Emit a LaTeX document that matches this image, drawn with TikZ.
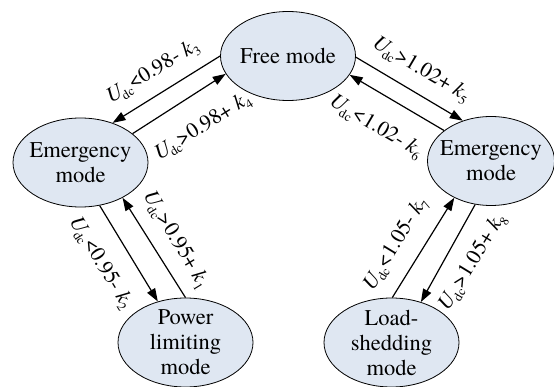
\documentclass[tikz,border=0pt]{standalone}
\usepackage{fontspec}
\setmainfont{texgyretermes}[Extension=.otf, UprightFont=*-regular,
  ItalicFont=*-italic, BoldFont=*-bold, BoldItalicFont=*-bolditalic]
\usetikzlibrary{arrows.meta,shapes.geometric}
\definecolor{modefill}{RGB}{223,231,242}
% lowered small text for the subscripts
\newcommand\lowsub[1]{\raisebox{-0.22em}{\fontsize{13}{13}\selectfont #1}}
% switching condition: U_dc <relation> k_i
\newcommand\switchcond[2]{{\itshape U}\kern-2pt\lowsub{dc}#1 {\itshape k}\lowsub{#2}}
\begin{document}
\begin{tikzpicture}[x=1pt,y=-1pt,
  mode/.style={ellipse, draw, fill=modefill, line width=0.8pt,
    minimum width=135pt, minimum height=89pt,
    inner xsep=-8pt, inner ysep=-8pt, align=center,
    font=\fontsize{22.5}{25}\selectfont},
  trans/.style={line width=1.2pt, -{Triangle[length=13pt,width=9pt]}},
  condlabel/.style={font=\fontsize{21.5}{25}\selectfont, inner sep=0pt}]
\useasboundingbox (0,0) rectangle (554,387);

% operating modes
\node[mode] (free) at (288,56) {Free mode};
\node[mode] (emL) at (80.5,162.5) {Emergency\\mode};
\node[mode, minimum width=127pt] (emR) at (491,161) {Emergency\\mode};
\node[mode] (power) at (185.5,342.5) {Power\\limiting\\mode};
\node[mode] (load) at (391.5,342.5) {Load-\\shedding\\mode};

% transitions
\draw[trans] (free.180) -- (emL.51.3);
\draw[trans] (emL.29.3) -- (free.196.8);
\draw[trans] (free.-1) -- (emR.125);
\draw[trans] (emR.147.8) -- (free.-17.9);
\draw[trans] (emL.-66.3) -- (power.124.5);
\draw[trans] (power.90.6) -- (emL.-40.1);
\draw[trans] (load.89.4) -- (emR.225.7);
\draw[trans] (emR.250) -- (load.54.9);

% switching conditions
\node[condlabel, rotate=31.5] (c3) at (153,72) {\switchcond{<0.98-}{3}};
\node[condlabel, rotate=32] (c4) at (203,127) {\switchcond{>0.98+}{4}};
\node[condlabel, rotate=-30.5] (c5) at (421,70) {\switchcond{>1.02+}{5}};
\node[condlabel, rotate=-30.5] (c6) at (376,127) {\switchcond{<1.02-}{6}};
\node[condlabel, rotate=-58.8] (c2) at (101,263) {\switchcond{<0.95-}{2}};
\node[condlabel, rotate=-58.8] (c1) at (176,240) {\switchcond{>0.95+}{1}};
\node[condlabel, rotate=58.6] (c7) at (396,244) {\switchcond{<1.05-}{7}};
\node[condlabel, rotate=58.6] (c8) at (473,262) {\switchcond{>1.05+}{8}};
\end{tikzpicture}
\end{document}
